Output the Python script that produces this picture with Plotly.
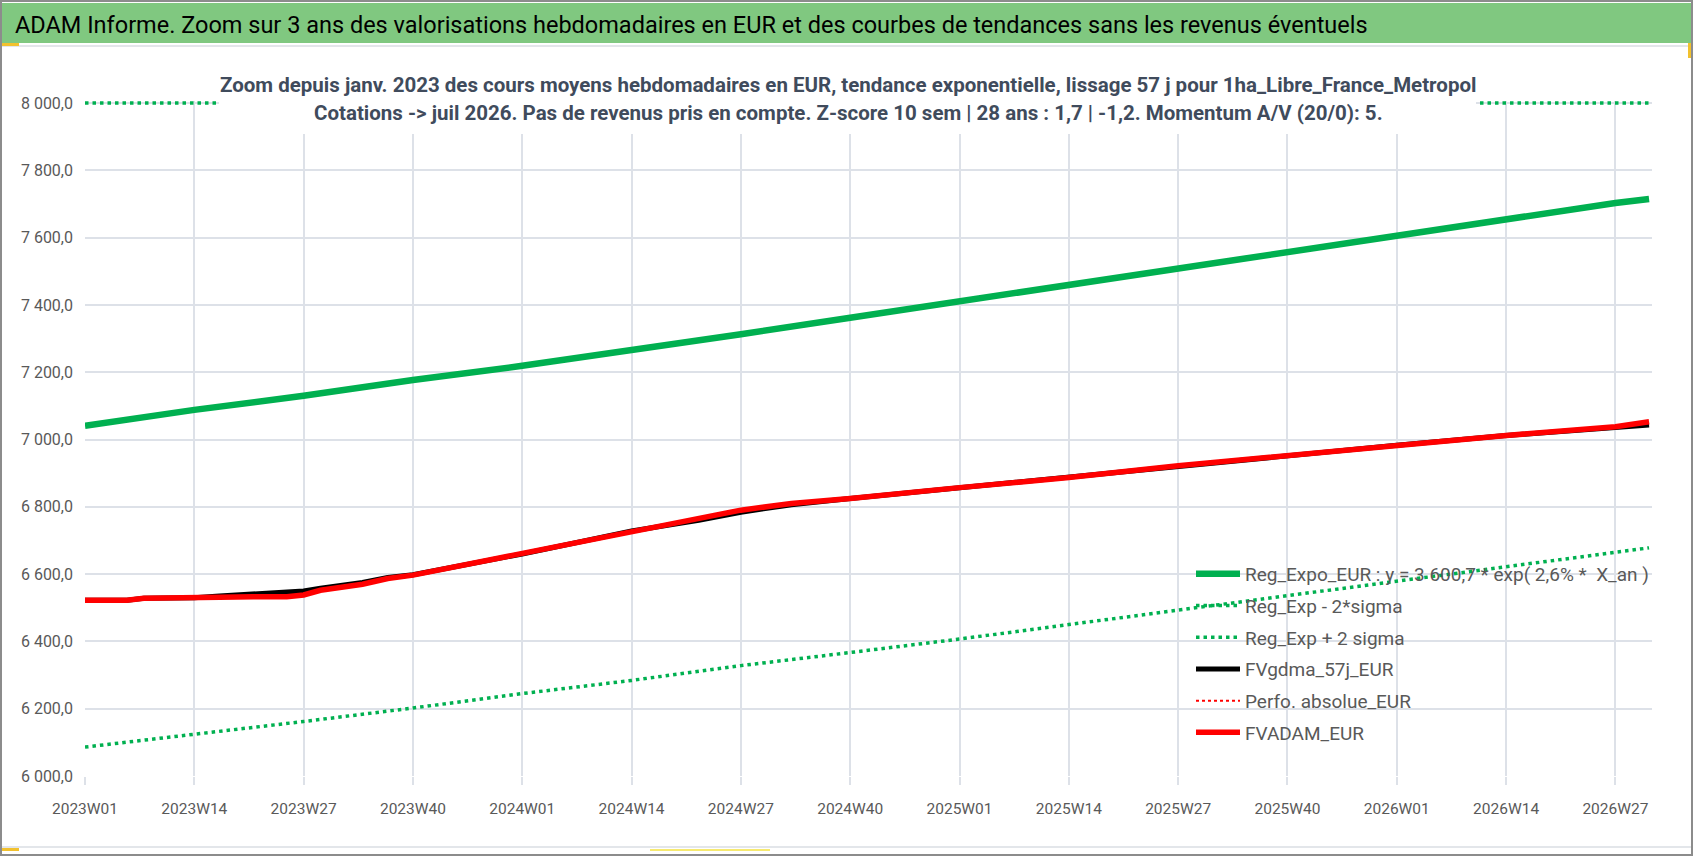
import plotly.graph_objects as go

# ---------------- data ----------------
tick_weeks = ["2023W01", "2023W14", "2023W27", "2023W40", "2024W01", "2024W14", "2024W27",
              "2024W40", "2025W01", "2025W14", "2025W27", "2025W40", "2026W01", "2026W14", "2026W27"]

trend_weeks = ["2023W01", "2023W14", "2023W27", "2023W40", "2024W01", "2024W14", "2024W27",
               "2024W40", "2025W01", "2025W14", "2025W27", "2025W40", "2026W01", "2026W14",
               "2026W27", "2026W31"]
reg_expo = [7041, 7088, 7130, 7177, 7219, 7265, 7313, 7362, 7411, 7458, 7507, 7556, 7605, 7655, 7703, 7715]
reg_minus_2s = [6086, 6123, 6162, 6202, 6245, 6284, 6328, 6367, 6407, 6450, 6493, 6536, 6579, 6622, 6665, 6678]
# the +2 sigma band lies above the axis maximum and is shown pinned at 8 000
reg_plus_2s = [8000, 8000, 8000, 8000, 8000, 8000, 8000, 8000, 8000, 8000, 8000, 8000, 8000, 8000, 8000, 8000]

adam_weeks = ["2023W01", "2023W06", "2023W08", "2023W14", "2023W17", "2023W21", "2023W25", "2023W27",
              "2023W29", "2023W34", "2023W37", "2023W40", "2023W45", "2024W01", "2024W14", "2024W22",
              "2024W27", "2024W33", "2024W40", "2025W01", "2025W14", "2025W27", "2025W40", "2026W01",
              "2026W14", "2026W27", "2026W31"]
fvadam = [6522, 6522, 6528, 6528, 6531, 6533, 6533, 6538, 6552, 6570, 6587, 6597, 6622, 6660, 6728,
          6766, 6790, 6810, 6825, 6857, 6887, 6922, 6953, 6983, 7012, 7038, 7053]
fvgdma = [6522, 6522, 6528, 6530, 6535, 6542, 6547, 6550, 6558, 6575, 6590, 6598, 6622, 6660, 6728,
          6760, 6784, 6806, 6825, 6857, 6887, 6922, 6953, 6983, 7012, 7034, 7043]
perfo_abs = fvadam

y_ticks = [6000, 6200, 6400, 6600, 6800, 7000, 7200, 7400, 7600, 7800, 8000]
y_tick_labels = ["6 000,0", "6 200,0", "6 400,0", "6 600,0", "6 800,0", "7 000,0",
                 "7 200,0", "7 400,0", "7 600,0", "7 800,0", "8 000,0"]

title_text = ("ADAM Informe. Zoom sur 3 ans des valorisations hebdomadaires en EUR et des "
              "courbes de tendances sans les revenus éventuels")
subtitle_1 = ("Zoom depuis janv. 2023 des cours moyens hebdomadaires en EUR, tendance exponentielle, "
              "lissage 57 j pour 1ha_Libre_France_Metropol")
subtitle_2 = ("Cotations -> juil 2026. Pas de revenus pris en compte. Z-score 10 sem | 28 ans : 1,7 | -1,2. "
              "Momentum A/V (20/0): 5.")


def week_index(label):
    year, week = label.split("W")
    return (int(year) - 2023) * 52 + int(week) - 1


FONT = "Roboto, Liberation Sans, sans-serif"
W, H = 1698, 856
ML, MR, MT, MB = 85, 46, 101, 80
PW, PH = W - ML - MR, H - MT - MB


def px(xp):
    return (xp - ML) / PW


def py(yp):
    return (H - MB - yp) / PH


fig = go.Figure()
fig.add_trace(go.Scatter(x=[week_index(w) for w in trend_weeks], y=reg_expo, mode="lines",
                         name="Reg_Expo_EUR : y = 3 600,7 * exp( 2,6% *  X_an )",
                         line=dict(color="#00B050", width=6.5)))
fig.add_trace(go.Scatter(x=[week_index(w) for w in trend_weeks], y=reg_minus_2s, mode="lines",
                         name="Reg_Exp - 2*sigma",
                         line=dict(color="#00B050", width=3.5, dash="3.5px,4px")))
fig.add_trace(go.Scatter(x=[week_index(w) for w in trend_weeks], y=reg_plus_2s, mode="lines",
                         name="Reg_Exp + 2 sigma",
                         line=dict(color="#00B050", width=3.5, dash="3.5px,4px")))
fig.add_trace(go.Scatter(x=[week_index(w) for w in adam_weeks], y=fvgdma, mode="lines",
                         name="FVgdma_57j_EUR", line=dict(color="#000000", width=5)))
fig.add_trace(go.Scatter(x=[week_index(w) for w in adam_weeks], y=perfo_abs, mode="lines",
                         name="Perfo. absolue_EUR", line=dict(color="#FF0000", width=2, dash="dot")))
fig.add_trace(go.Scatter(x=[week_index(w) for w in adam_weeks], y=fvadam, mode="lines",
                         name="FVADAM_EUR", line=dict(color="#FF0000", width=5.5)))

for i, tr in enumerate(fig.data):
    tr.legendgroup = "g%d" % i

shapes = [
    # outer frame
    dict(type="rect", xref="paper", yref="paper", x0=px(1), x1=px(1692), y0=py(855), y1=py(1),
         line=dict(color="#8C8C8C", width=2), fillcolor="rgba(0,0,0,0)", layer="below"),
    # title band
    dict(type="rect", xref="paper", yref="paper", x0=px(2), x1=px(1691), y0=py(43), y1=py(3),
         line=dict(width=0), fillcolor="#80C880", layer="below"),
    dict(type="line", xref="paper", yref="paper", x0=px(2), x1=px(1691), y0=py(46), y1=py(46),
         line=dict(color="#E3E6EA", width=2), layer="below"),
    dict(type="line", xref="paper", yref="paper", x0=px(2), x1=px(1691), y0=py(847), y1=py(847),
         line=dict(color="#E3E6EA", width=2), layer="below"),
    # small yellow marks
    dict(type="rect", xref="paper", yref="paper", x0=px(2), x1=px(19), y0=py(46), y1=py(43),
         line=dict(width=0), fillcolor="#F2C12E", layer="below"),
    dict(type="rect", xref="paper", yref="paper", x0=px(1688), x1=px(1691), y0=py(58), y1=py(43),
         line=dict(width=0), fillcolor="#F2C12E", layer="below"),
    dict(type="rect", xref="paper", yref="paper", x0=px(2), x1=px(19), y0=py(851), y1=py(848),
         line=dict(width=0), fillcolor="#F2C12E", layer="below"),
    dict(type="rect", xref="paper", yref="paper", x0=px(650), x1=px(770), y0=py(851), y1=py(849),
         line=dict(width=0), fillcolor="#F7EA70", layer="below"),
    # white box behind the subtitle (covers the lines there)
    dict(type="rect", xref="paper", yref="paper", x0=px(219), x1=px(1476), y0=py(134), y1=py(55),
         line=dict(width=0), fillcolor="#FFFFFF", layer="above"),
]

annotations = [
    dict(text=title_text, xref="paper", yref="paper", x=px(13), y=py(25), xanchor="left",
         yanchor="middle", showarrow=False, font=dict(family=FONT, size=23.5, color="#000000")),
    dict(text="<b>" + subtitle_1 + "</b>", xref="paper", yref="paper", x=px(848), y=py(85),
         xanchor="center", yanchor="middle", showarrow=False,
         font=dict(family=FONT, size=20.5, color="#404B5C")),
    dict(text="<b>" + subtitle_2 + "</b>", xref="paper", yref="paper", x=px(848), y=py(113),
         xanchor="center", yanchor="middle", showarrow=False,
         font=dict(family=FONT, size=20.5, color="#404B5C")),
]

fig.update_layout(
    width=W, height=H, autosize=False,
    margin=dict(l=ML, r=MR, t=MT, b=MB, pad=0),
    paper_bgcolor="#FFFFFF", plot_bgcolor="#FFFFFF",
    font=dict(family=FONT, size=17, color="#595959"),
    showlegend=True,
    legend=dict(x=px(1191), y=py(555), xanchor="left", yanchor="top",
                bgcolor="rgba(0,0,0,0)", borderwidth=0, traceorder="grouped",
                tracegroupgap=4, itemwidth=44,
                font=dict(family=FONT, size=19, color="#595959")),
    shapes=shapes,
    annotations=annotations,
    xaxis=dict(range=[0, 186.35], tickmode="array",
               tickvals=[week_index(w) for w in tick_weeks], ticktext=tick_weeks,
               showgrid=True, gridcolor="#DDE1E8", gridwidth=1.5, zeroline=False,
               showline=False, ticks="outside", ticklen=8, tickcolor="#DDE1E8", tickwidth=1.5,
               ticklabelstandoff=10, tickfont=dict(family=FONT, size=15.5, color="#595959")),
    yaxis=dict(range=[6000, 8006], tickmode="array", tickvals=y_ticks, ticktext=y_tick_labels,
               showgrid=True, gridcolor="#DDE1E8", gridwidth=1.5, zeroline=False, showline=False,
               ticks="", ticklabelstandoff=11, tickfont=dict(family=FONT, size=16, color="#595959")),
)

fig.write_html("out.html", config={"displayModeBar": False},
               post_script="document.body.style.margin='0px';"
                           "document.documentElement.style.overflow='hidden';")
